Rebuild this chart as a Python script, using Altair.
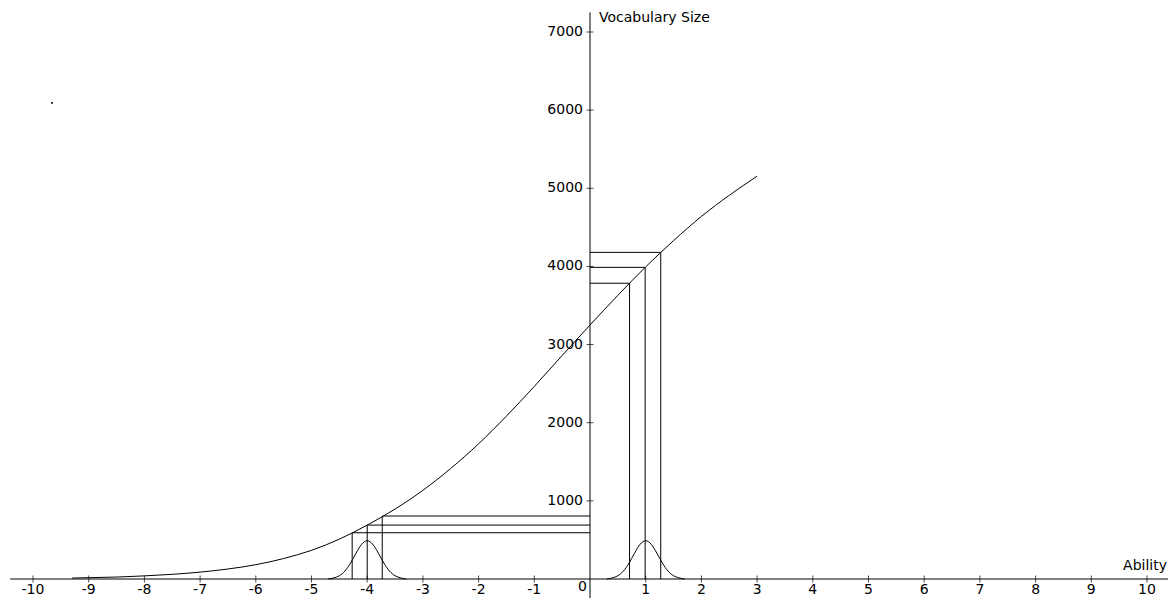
import altair as alt
import pandas as pd

# ---- data ----
curve_x = [-9.3, -9.0, -8.5, -8.0, -7.5, -7.0, -6.5, -6.0, -5.5, -5.0, -4.5, -4.0,
           -3.5, -3.0, -2.5, -2.0, -1.5, -1.0, -0.5, 0.0, 0.5, 1.0, 1.5, 2.0, 2.5, 3.0]
curve_y = [12, 17, 25, 40, 60, 88, 128, 183, 262, 367, 510, 690,
           895, 1135, 1415, 1730, 2085, 2465, 2860, 3250, 3630, 3995, 4330, 4640, 4910, 5155]

marker_x = [-4.27, -4.00, -3.73, 0.71, 0.99, 1.27]
marker_y = [592, 690, 806, 3785, 3988, 4180]

bell_left_x = [-4.7, -4.6, -4.5, -4.4, -4.3, -4.2, -4.1, -4.0, -3.9, -3.8, -3.7, -3.6, -3.5, -3.4, -3.3]
bell_right_x = [0.3, 0.4, 0.5, 0.6, 0.7, 0.8, 0.9, 1.0, 1.1, 1.2, 1.3, 1.4, 1.5, 1.6, 1.7]
bell_y = [0, 14, 42, 102, 203, 331, 444, 490, 444, 331, 203, 102, 42, 14, 0]

x_ticks = [-10, -9, -8, -7, -6, -5, -4, -3, -2, -1, 1, 2, 3, 4, 5, 6, 7, 8, 9, 10]
x_labels = ["-10", "-9", "-8", "-7", "-6", "-5", "-4", "-3", "-2", "-1",
            "1", "2", "3", "4", "5", "6", "7", "8", "9", "10"]
y_ticks = [1000, 2000, 3000, 4000, 5000, 6000, 7000]
y_labels = ["1000", "2000", "3000", "4000", "5000", "6000", "7000"]

dot_x = [-9.66]
dot_y = [6094]

x_title = "Ability"
y_title = "Vocabulary Size"

# ---- scales ----
XMIN, XMAX = -10.449, 10.377
YMIN, YMAX = -243.1, 7307.1
xs = alt.Scale(domain=[XMIN, XMAX], nice=False, zero=False)
ys = alt.Scale(domain=[YMIN, YMAX], nice=False, zero=False)
FONT = "DejaVu Sans"
INK = "#000000"


def X(f):
    return alt.X(f, type="quantitative", scale=xs, axis=None)


def Y(f):
    return alt.Y(f, type="quantitative", scale=ys, axis=None)


# axis lines
xaxis_df = pd.DataFrame({"x": [-10.41], "x2": [10.40], "y": [0]})
yaxis_df = pd.DataFrame({"x": [0], "y": [-260], "y2": [7250]})
xaxis = alt.Chart(xaxis_df).mark_rule(color=INK, strokeWidth=1).encode(
    x=X("x"), x2="x2", y=Y("y"))
yaxis = alt.Chart(yaxis_df).mark_rule(color=INK, strokeWidth=1).encode(
    x=X("x"), y=Y("y"), y2="y2")

xt_df = pd.DataFrame({"x": x_ticks, "y": [0] * len(x_ticks), "label": x_labels})
yt_df = pd.DataFrame({"y": y_ticks, "x": [0] * len(y_ticks), "label": y_labels})

xticks = alt.Chart(xt_df).mark_tick(orient="vertical", size=7, thickness=1, color=INK).encode(
    x=X("x"), y=Y("y"))
yticks = alt.Chart(yt_df).mark_tick(orient="horizontal", size=7, thickness=1, color=INK).encode(
    x=X("x"), y=Y("y"))

xlabels = alt.Chart(xt_df).mark_text(
    font=FONT, fontSize=14, color=INK, align="center", baseline="alphabetic", dy=15
).encode(x=X("x"), y=Y("y"), text="label:N")
ylabels = alt.Chart(yt_df).mark_text(
    font=FONT, fontSize=14, color=INK, align="right", baseline="middle", dx=-7
).encode(x=X("x"), y=Y("y"), text="label:N")

zero_df = pd.DataFrame({"x": [0], "y": [0], "label": ["0"]})
zero_label = alt.Chart(zero_df).mark_text(
    font=FONT, fontSize=14, color=INK, align="right", baseline="alphabetic", dx=-3, dy=12
).encode(x=X("x"), y=Y("y"), text="label:N")

ytitle_df = pd.DataFrame({"x": [0], "y": [7000], "label": [y_title]})
ytitle = alt.Chart(ytitle_df).mark_text(
    font=FONT, fontSize=14, color=INK, align="left", baseline="alphabetic", dx=9, dy=-10
).encode(x=X("x"), y=Y("y"), text="label:N")

xtitle_df = pd.DataFrame({"x": [10], "y": [0], "label": [x_title]})
xtitle = alt.Chart(xtitle_df).mark_text(
    font=FONT, fontSize=14, color=INK, align="right", baseline="alphabetic", dx=20, dy=-9
).encode(x=X("x"), y=Y("y"), text="label:N")

# main curve
curve_df = pd.DataFrame({"x": curve_x, "y": curve_y})
curve = alt.Chart(curve_df).mark_line(color=INK, strokeWidth=1, interpolate="monotone").encode(
    x=X("x"), y=Y("y"))

# bells
bell_df = pd.DataFrame({
    "x": bell_left_x + bell_right_x,
    "y": bell_y + bell_y,
    "g": ["left"] * len(bell_left_x) + ["right"] * len(bell_right_x),
})
bells = alt.Chart(bell_df).mark_line(color=INK, strokeWidth=1, interpolate="monotone").encode(
    x=X("x"), y=Y("y"), detail="g:N")

# marker lines
mk_df = pd.DataFrame({"x": marker_x, "y": marker_y, "zero": [0] * len(marker_x)})
verticals = alt.Chart(mk_df).mark_rule(color=INK, strokeWidth=1).encode(
    x=X("x"), y=Y("zero"), y2="y")
horizontals = alt.Chart(mk_df).mark_rule(color=INK, strokeWidth=1).encode(
    x=X("x"), x2="zero", y=Y("y"))

dot_df = pd.DataFrame({"x": dot_x, "y": dot_y})
dot = alt.Chart(dot_df).mark_square(size=3, color=INK, opacity=1).encode(
    x=X("x"), y=Y("y"))

chart = alt.layer(
    xaxis, yaxis, xticks, yticks, curve, bells, verticals, horizontals,
    xlabels, ylabels, zero_label, ytitle, xtitle, dot
).properties(
    width=1160, height=590, padding=0,
    autosize=alt.AutoSizeParams(type="none"),
    background="white",
).configure_view(strokeWidth=0)

chart.save("out.html", embed_options={"renderer": "svg", "actions": False})
